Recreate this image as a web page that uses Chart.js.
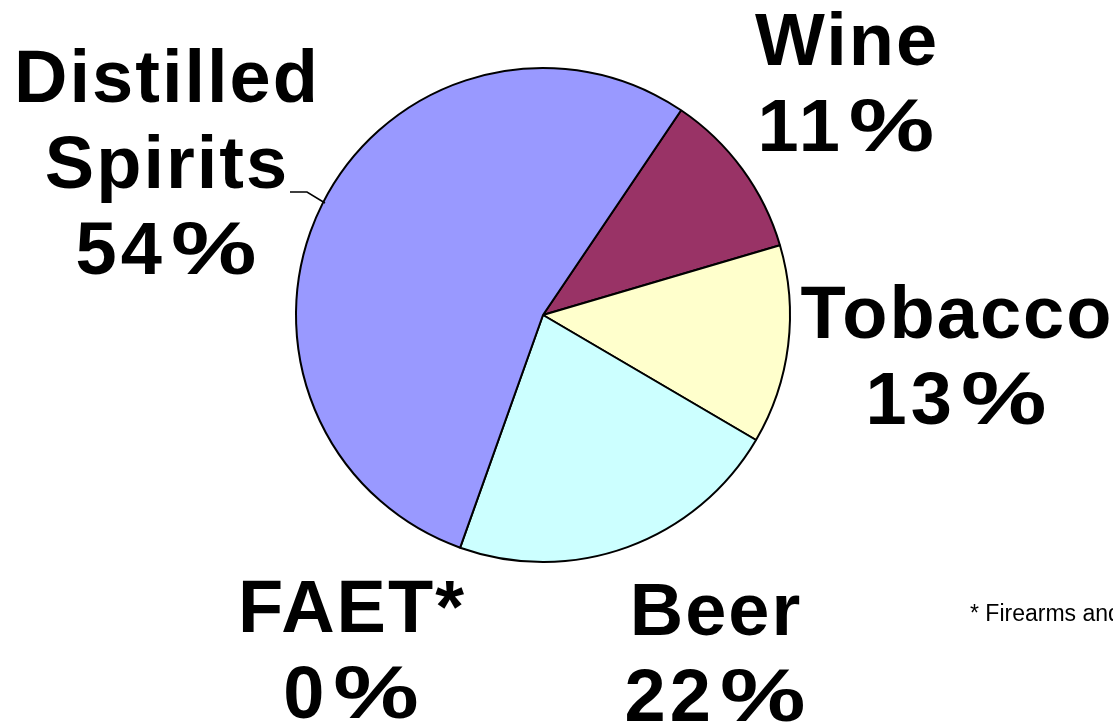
<!DOCTYPE html>
<html lang="en">
<head>
  <meta charset="UTF-8">
  <title>Excise tax share</title>
  <script src="https://cdn.jsdelivr.net/npm/chart.js"></script>
  <style>
    html, body {
      margin: 0;
      padding: 0;
      background: #ffffff;
      overflow: hidden;
    }
    canvas {
      display: block;
    }
  </style>
</head>
<body>

<canvas id="pieChart" width="1113" height="725"></canvas>

<script>
// data (clockwise from the Wine slice)
const categories = ['Wine', 'Tobacco', 'Beer', 'FAET*', 'Distilled Spirits'];
const shares = [11, 13, 22, 0, 54];
const footnote = '* Firearms and Ammunition Excise Tax';

const sliceColors = ['#993366', '#FFFFCC', '#CCFFFF', '#660066', '#9999FF'];

// where each label sits: centre x and baseline of first line
const labelSpots = {
  'Wine': { x: 846, y: 65, lines: ['Wine'] },
  'Tobacco': { x: 956, y: 338, lines: ['Tobacco'] },
  'Beer': { x: 715, y: 635, lines: ['Beer'] },
  'FAET*': { x: 351, y: 632, lines: ['FAET*'] },
  'Distilled Spirits': { x: 166, y: 102, lines: ['Distilled', 'Spirits'] }
};
const lineGap = 86;
const wordSpacing = 2;
const pctStretch = 1.3;  // the % sign in the original is wider than Arial's
const pctGap = 5;

function drawPercent(ctx, value, cx, y) {
  const num = String(value);
  ctx.textAlign = 'left';
  ctx.letterSpacing = '4px';
  const numW = ctx.measureText(num).width;
  ctx.letterSpacing = '0px';
  const signW = ctx.measureText('%').width * pctStretch;
  const x0 = cx - (numW + pctGap + signW) / 2;
  ctx.letterSpacing = '4px';
  ctx.fillText(num, x0, y);
  ctx.letterSpacing = '0px';
  ctx.save();
  ctx.translate(x0 + numW + pctGap, y);
  ctx.scale(pctStretch, 1);
  ctx.fillText('%', 0, 0);
  ctx.restore();
}

const labelPlugin = {
  id: 'sliceLabels',
  afterDraw(chart) {
    const ctx = chart.ctx;
    ctx.save();
    ctx.fillStyle = '#000';
    ctx.textBaseline = 'alphabetic';
    ctx.font = 'bold 74px "Liberation Sans", Arial, sans-serif';

    categories.forEach((name, i) => {
      const spot = labelSpots[name];
      spot.lines.forEach((t, k) => {
        ctx.textAlign = 'center';
        ctx.letterSpacing = wordSpacing + 'px';
        ctx.fillText(t, spot.x + wordSpacing / 2, spot.y + k * lineGap);
      });
      drawPercent(ctx, shares[i], spot.x, spot.y + spot.lines.length * lineGap);
    });

    // leader line for distilled spirits
    ctx.strokeStyle = '#000';
    ctx.lineWidth = 1.5;
    ctx.beginPath();
    ctx.moveTo(290, 192);
    ctx.lineTo(307, 192);
    ctx.lineTo(325, 203);
    ctx.stroke();

    // footnote, runs off the right edge like the original
    ctx.letterSpacing = '0px';
    ctx.textAlign = 'left';
    ctx.font = '23px "Liberation Sans", Arial, sans-serif';
    ctx.fillText(footnote, 970, 621);
    ctx.restore();
  }
};

new Chart(document.getElementById('pieChart'), {
  type: 'pie',
  data: {
    labels: categories,
    datasets: [{
      data: shares,
      backgroundColor: sliceColors,
      borderColor: '#000',
      borderWidth: 2
    }]
  },
  options: {
    responsive: false,
    animation: false,
    rotation: 34,
    radius: 247,
    layout: {
      padding: { left: 0, right: 27, top: 0, bottom: 95 }
    },
    plugins: {
      legend: { display: false },
      tooltip: { enabled: false }
    }
  },
  plugins: [labelPlugin]
});
</script>

</body>
</html>
